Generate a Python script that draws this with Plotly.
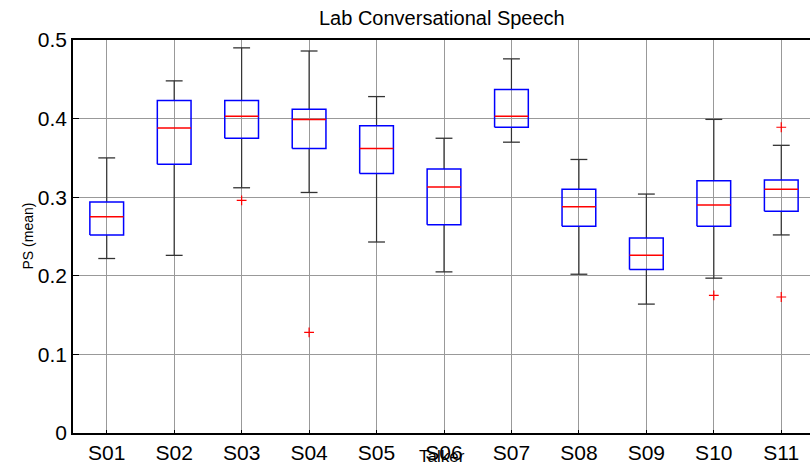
import plotly.graph_objects as go

talkers = ["S01", "S02", "S03", "S04", "S05", "S06", "S07", "S08", "S09", "S10", "S11"]
upper_whisker = [0.350, 0.448, 0.490, 0.486, 0.428, 0.375, 0.476, 0.348, 0.304, 0.399, 0.366]
q3 = [0.294, 0.423, 0.423, 0.412, 0.391, 0.336, 0.437, 0.310, 0.248, 0.321, 0.322]
medians = [0.275, 0.388, 0.403, 0.399, 0.362, 0.313, 0.403, 0.288, 0.226, 0.290, 0.310]
q1 = [0.252, 0.342, 0.375, 0.362, 0.330, 0.265, 0.389, 0.263, 0.208, 0.263, 0.282]
lower_whisker = [0.222, 0.226, 0.312, 0.306, 0.243, 0.205, 0.370, 0.202, 0.164, 0.197, 0.252]
outlier_talker = ["S03", "S04", "S10", "S11", "S11"]
outlier_value = [0.296, 0.128, 0.175, 0.389, 0.173]
y_ticks = [0, 0.1, 0.2, 0.3, 0.4, 0.5]

BOX_HALF = 0.25
CAP_HALF = 0.125
pos = {t: i + 1 for i, t in enumerate(talkers)}

bx, by, mx, my, wx, wy, cx, cy = [], [], [], [], [], [], [], []
for t, uw, a3, m, a1, lw in zip(talkers, upper_whisker, q3, medians, q1, lower_whisker):
    p = pos[t]
    bx += [p - BOX_HALF, p + BOX_HALF, p + BOX_HALF, p - BOX_HALF, p - BOX_HALF, None]
    by += [a1, a1, a3, a3, a1, None]
    mx += [p - BOX_HALF, p + BOX_HALF, None]
    my += [m, m, None]
    wx += [p, p, None, p, p, None]
    wy += [a3, uw, None, a1, lw, None]
    cx += [p - CAP_HALF, p + CAP_HALF, None, p - CAP_HALF, p + CAP_HALF, None]
    cy += [uw, uw, None, lw, lw, None]

fig = go.Figure()
fig.add_trace(go.Scatter(x=wx, y=wy, mode="lines", line=dict(color="#333333", width=1.2), hoverinfo="skip"))
fig.add_trace(go.Scatter(x=cx, y=cy, mode="lines", line=dict(color="#333333", width=1.3), hoverinfo="skip"))
fig.add_trace(go.Scatter(x=bx, y=by, mode="lines", line=dict(color="#0000ff", width=1.5), hoverinfo="skip"))
fig.add_trace(go.Scatter(x=mx, y=my, mode="lines", line=dict(color="#ff0000", width=1.5), hoverinfo="skip"))
fig.add_trace(go.Scatter(x=[pos[t] for t in outlier_talker], y=outlier_value, mode="markers",
                         marker=dict(symbol="cross-thin", size=7, line=dict(color="#ff0000", width=1.2)),
                         hoverinfo="skip"))

font = "Liberation Sans, Arial, Helvetica, sans-serif"
fig.update_layout(
    width=810, height=466,
    margin=dict(l=73, r=0, t=40, b=33),
    paper_bgcolor="white", plot_bgcolor="white",
    showlegend=False,
    font=dict(family=font, color="black"),
)
fig.update_xaxes(
    range=[0.5, 11.426],
    tickmode="array", tickvals=[pos[t] for t in talkers], ticktext=talkers,
    tickfont=dict(size=21, family=font, color="black"),
    showgrid=True, gridcolor="#999999", gridwidth=1,
    showline=True, linecolor="black", linewidth=1.5, mirror=True,
    ticks="inside", ticklen=3, tickcolor="black",
    zeroline=False,
)
fig.update_yaxes(
    range=[0, 0.5],
    tickmode="array", tickvals=y_ticks, ticktext=[("%g" % v) for v in y_ticks],
    tickfont=dict(size=21, family=font, color="black"),
    showgrid=True, gridcolor="#999999", gridwidth=1,
    showline=True, linecolor="black", linewidth=1.5, mirror=False,
    ticks="inside", ticklen=6, tickcolor="black",
    zeroline=False,
)
fig.add_annotation(text="Lab Conversational Speech", xref="paper", yref="paper", x=0.5, y=1,
                   yshift=22, yanchor="middle", showarrow=False, font=dict(size=20, family=font, color="black"))
fig.add_annotation(text="Talker", xref="paper", yref="paper", x=0.5, y=0,
                   yshift=-23, yanchor="middle", showarrow=False, font=dict(size=17, family=font, color="black"))
fig.add_annotation(text="PS (mean)", xref="paper", yref="paper", x=0, y=0.5, textangle=-90,
                   xshift=-46, xanchor="center", yanchor="middle", showarrow=False,
                   font=dict(size=14, family=font, color="black"))

fig.write_html("out.html")
